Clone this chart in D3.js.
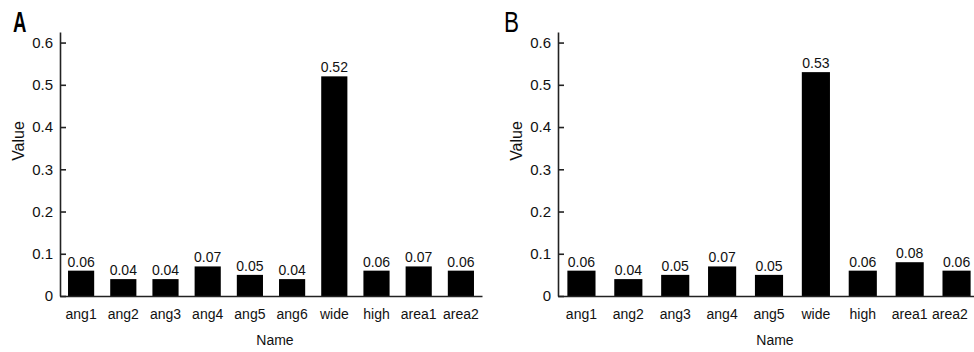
<!DOCTYPE html>
<html>
<head>
<meta charset="utf-8">
<script src="https://cdn.jsdelivr.net/npm/d3@7"></script>
<style>
  body { margin: 0; background: #fff; }
  svg { font-family: "Liberation Sans", Arial, sans-serif; }
</style>
</head>
<body>
<svg id="chart" width="974" height="352"></svg>
<script>
// données
const namesA = ["ang1", "ang2", "ang3", "ang4", "ang5", "ang6", "wide", "high", "area1", "area2"]
const valuesA = [0.06, 0.04, 0.04, 0.07, 0.05, 0.04, 0.52, 0.06, 0.07, 0.06]
const namesB = ["ang1", "ang2", "ang3", "ang4", "ang5", "wide", "high", "area1", "area2"]
const valuesB = [0.06, 0.04, 0.05, 0.07, 0.05, 0.53, 0.06, 0.08, 0.06]
const yTicks = [0, 0.1, 0.2, 0.3, 0.4, 0.5, 0.6]

const svg = d3.select("#chart")

// dessine un panneau
function drawPanel(letter, names, values, x0, x1, pad, labelX) {
    const g = svg.append("g")

    const x = d3.scaleBand().domain(names).range([x0, x1]).padding(pad).paddingOuter(pad / 2)
    const y = d3.scaleLinear().domain([0, 0.625]).range([296, 32])

    // barres
    g.selectAll("rect")
        .data(values)
        .enter()
        .append("rect")
        .attr("x", (d, i) => x(names[i]))
        .attr("y", d => y(d))
        .attr("width", x.bandwidth())
        .attr("height", d => y(0) - y(d))
        .attr("fill", "#000")

    // valeurs
    g.selectAll("text.val")
        .data(values)
        .enter()
        .append("text")
        .attr("class", "val")
        .attr("x", (d, i) => x(names[i]) + x.bandwidth() / 2)
        .attr("y", d => y(d) - 4)
        .attr("text-anchor", "middle")
        .attr("font-size", 14)
        .attr("fill", "#111")
        .text(d => d.toFixed(2))

    // axe y
    const yAxis = g.append("g")
        .attr("transform", `translate(${x0},0)`)
        .call(d3.axisLeft(y).tickValues(yTicks).tickSizeInner(-6).tickSizeOuter(0).tickPadding(7)
            .tickFormat(d => d === 0 ? "0" : d3.format(".1f")(d)))
    yAxis.attr("font-family", null)
    yAxis.select(".domain").attr("stroke", "#222").attr("stroke-width", 1.6)
    yAxis.selectAll(".tick line").attr("stroke", "#222").attr("stroke-width", 1.6)
    yAxis.selectAll(".tick text").attr("font-size", 15).attr("fill", "#111")

    // axe x
    const xAxis = g.append("g")
        .attr("transform", `translate(0,${y(0)})`)
        .call(d3.axisBottom(x).tickSize(0).tickPadding(13))
    xAxis.attr("font-family", null)
    xAxis.select(".domain").attr("stroke", "#222").attr("stroke-width", 1.6)
    xAxis.selectAll(".tick text").attr("font-size", 14).attr("fill", "#111")
    // garder les étiquettes dans le cadre
    xAxis.selectAll(".tick").each(function () {
        const t = d3.select(this).select("text")
        const box = this.getBBox()
        const cx = x(t.text()) + x.bandwidth() / 2
        const right = cx + box.width / 2
        if (right > 968) t.attr("dx", 968 - right)
    })

    // titres
    g.append("text")
        .attr("x", labelX)
        .attr("y", 345)
        .attr("text-anchor", "middle")
        .attr("font-size", 14)
        .attr("fill", "#111")
        .text("Name")

    g.append("text")
        .attr("transform", `translate(${x0 - 36},141) rotate(-90)`)
        .attr("text-anchor", "middle")
        .attr("font-size", 16)
        .attr("fill", "#111")
        .text("Value")

    const bold = letter === "A"
    g.append("text")
        .attr("transform", `translate(${x0 - (bold ? 47 : 54)},32) scale(${bold ? 0.62 : 0.75},1)`)
        .attr("font-size", 30)
        .attr("font-weight", bold ? "bold" : "normal")
        .attr("fill", "#000")
        .text(letter)
}

drawPanel("A", namesA, valuesA, 60, 482, 0.38, 275)
drawPanel("B", namesB, valuesB, 558, 980, 0.4, 775)
</script>
</body>
</html>
